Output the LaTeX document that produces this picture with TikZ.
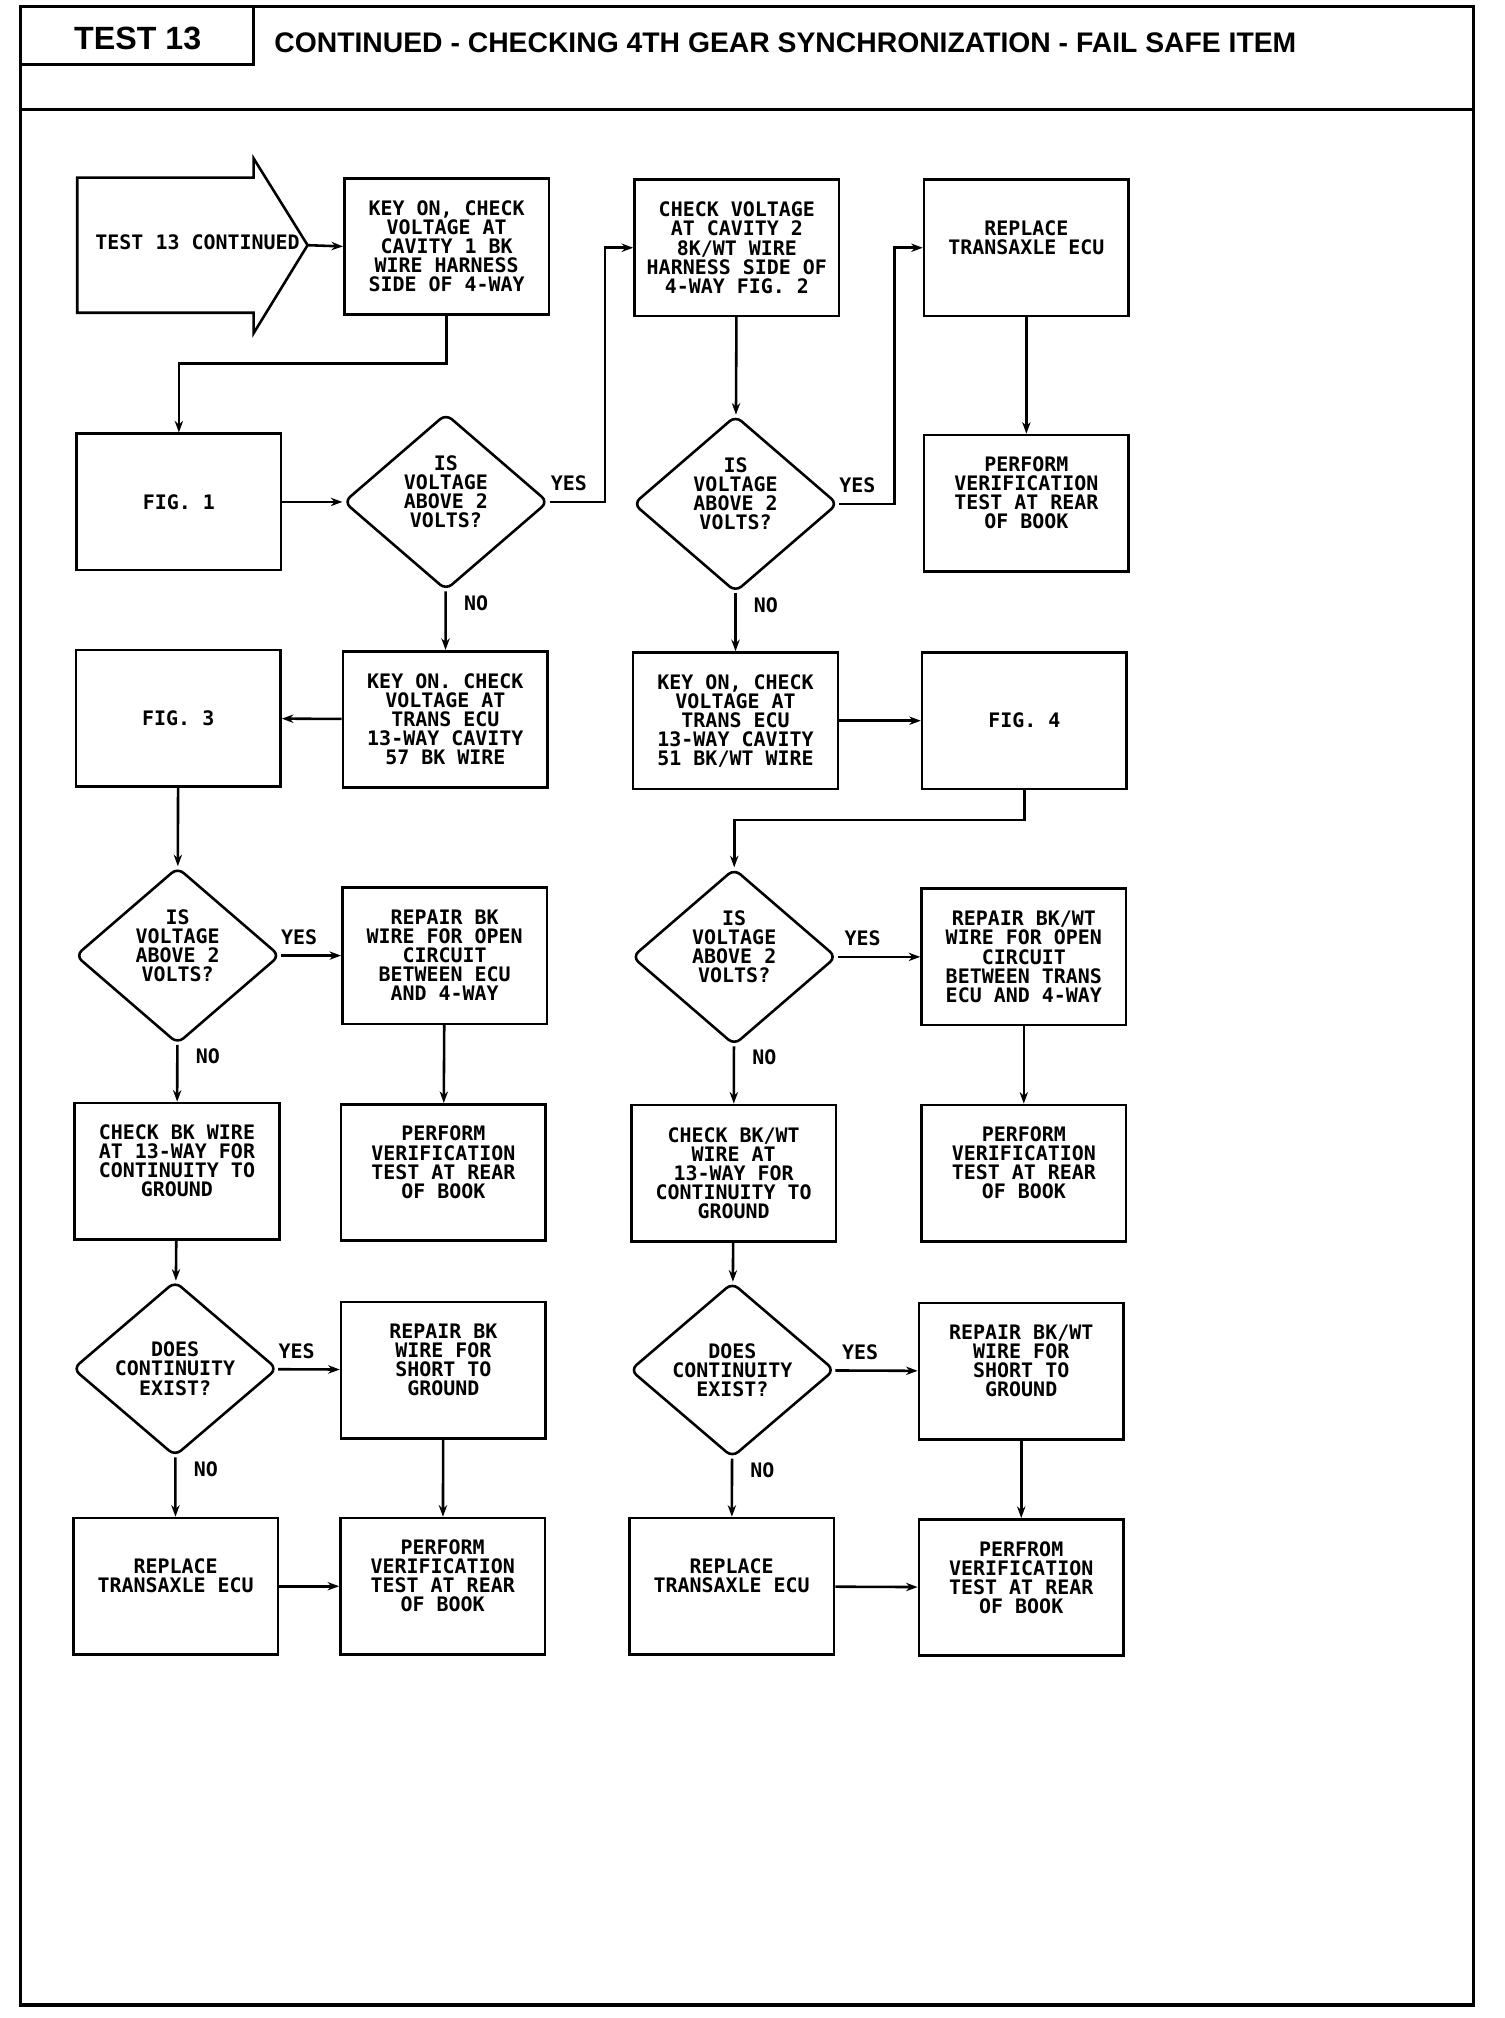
\documentclass[tikz,border=0pt]{standalone}
\usepackage{fontspec}
\setmonofont{DejaVu Sans Mono}
\newfontfamily\headfont{Liberation Sans}
\usetikzlibrary{arrows.meta,shapes.geometric}

\begin{document}
\begin{tikzpicture}[x=1pt, y=-1pt, every node/.style={font=\ttfamily\bfseries\fontsize{15.5}{14.8}\selectfont}, actbox/.style={draw, line width=2pt, align=center, minimum width=159pt, minimum height=106pt, inner sep=2pt}, query/.style={draw, diamond, line width=2pt, align=center, minimum width=159pt, minimum height=136pt, inner sep=0pt, rounded corners=6pt}, lifted/.style={text depth=16pt}, arr/.style={-{Stealth[length=9pt,width=6.5pt]}, line width=2pt}, yes/.style={above, yshift=4pt}, no/.style={right, xshift=10pt}, frame/.style={line width=2.6pt}]
\useasboundingbox (0,0) rectangle (1169,1568);
\draw[frame] (16,5) rectangle (1145,1558); \draw[frame] (16,85) -- (1145,85); \draw[line width=2pt] (197,5) -- (197,50) -- (16,50);
\node[font=\headfont\bfseries\fontsize{25}{25}\selectfont, inner sep=0pt] (testno) at (107,30) {TEST 13};
\node[font=\headfont\bfseries\fontsize{22}{22}\selectfont, inner sep=0pt, anchor=west] (title) at (213,33) {CONTINUED - CHECKING 4TH GEAR SYNCHRONIZATION - FAIL SAFE ITEM};
\draw[line width=2pt] (60,138) -- (197,138) -- (197,123) -- (239,190.5) -- (197,259) -- (197,243) -- (60,243) -- cycle;
\node (start) at (153.5,188) {TEST 13 CONTINUED};
\coordinate (starttip) at (239,190.5);
\node[actbox] (keyon4way) at (347,191.5) {KEY ON, CHECK\\VOLTAGE AT\\CAVITY 1 BK\\WIRE HARNESS\\SIDE OF 4-WAY};
\node[actbox] (check4way2) at (572.5,192.5) {CHECK VOLTAGE\\AT CAVITY 2\\8K/WT WIRE\\HARNESS SIDE OF\\4-WAY FIG. 2};
\node[actbox, lifted] (replacea) at (797.5,192.5) {REPLACE\\TRANSAXLE ECU};
\node[actbox] (fig1) at (139,390) {FIG. 1};
\node[query, lifted] (volt4way) at (346.5,390) {IS\\VOLTAGE\\ABOVE 2\\VOLTS?};
\node[query, lifted] (volt4way2) at (571.5,391.5) {IS\\VOLTAGE\\ABOVE 2\\VOLTS?};
\node[actbox, lifted] (verifya) at (797.5,391) {PERFORM\\VERIFICATION\\TEST AT REAR\\OF BOOK};
\node[actbox] (fig3) at (138.5,558) {FIG. 3};
\node[actbox] (keyon57) at (346,559) {KEY ON. CHECK\\VOLTAGE AT\\TRANS ECU\\13-WAY CAVITY\\57 BK WIRE};
\node[actbox] (keyon51) at (571.5,560) {KEY ON, CHECK\\VOLTAGE AT\\TRANS ECU\\13-WAY CAVITY\\51 BK/WT WIRE};
\node[actbox] (fig4) at (796,560) {FIG. 4};
\node[query, lifted] (volt57) at (138,742.5) {IS\\VOLTAGE\\ABOVE 2\\VOLTS?};
\node[actbox] (repair57) at (345.5,742.5) {REPAIR BK\\WIRE FOR OPEN\\CIRCUIT\\BETWEEN ECU\\AND 4-WAY};
\node[query, lifted] (volt51) at (570.5,743.5) {IS\\VOLTAGE\\ABOVE 2\\VOLTS?};
\node[actbox] (repair51) at (795.5,743.5) {REPAIR BK/WT\\WIRE FOR OPEN\\CIRCUIT\\BETWEEN TRANS\\ECU AND 4-WAY};
\node[actbox, lifted] (checkgnd57) at (137.5,910) {CHECK BK WIRE\\AT 13-WAY FOR\\CONTINUITY TO\\GROUND};
\node[actbox, lifted] (verify57a) at (344.5,911) {PERFORM\\VERIFICATION\\TEST AT REAR\\OF BOOK};
\node[actbox] (checkgnd51) at (570,911.5) {CHECK BK/WT\\WIRE AT\\13-WAY FOR\\CONTINUITY TO\\GROUND};
\node[actbox, lifted] (verify51a) at (795.5,911.5) {PERFORM\\VERIFICATION\\TEST AT REAR\\OF BOOK};
\node[query] (cont57) at (136,1063.5) {DOES\\CONTINUITY\\EXIST?};
\node[actbox, lifted] (short57) at (344.5,1064.5) {REPAIR BK\\WIRE FOR\\SHORT TO\\GROUND};
\node[query] (cont51) at (569,1064.5) {DOES\\CONTINUITY\\EXIST?};
\node[actbox, lifted] (short51) at (793.5,1065.5) {REPAIR BK/WT\\WIRE FOR\\SHORT TO\\GROUND};
\node[actbox, lifted] (replace57) at (136.5,1232.5) {REPLACE\\TRANSAXLE ECU};
\node[actbox, lifted] (verify57b) at (344,1232.5) {PERFORM\\VERIFICATION\\TEST AT REAR\\OF BOOK};
\node[actbox, lifted] (replace51) at (568.5,1232.5) {REPLACE\\TRANSAXLE ECU};
\node[actbox, lifted] (verify51b) at (793.5,1233.5) {PERFROM\\VERIFICATION\\TEST AT REAR\\OF BOOK};
\draw[arr] (starttip) -- (keyon4way.west); \draw[arr] (keyon4way.south) -- ++(0,37) -| (fig1.north); \draw[arr] (fig1) -- (volt4way); \draw[arr] (volt4way.east) -- node[pos=.35, yes]{YES} ++(43,0) |- (check4way2.west); \draw[arr] (volt4way) -- node[pos=.2, no]{NO} (keyon57); \draw[arr] (keyon57) -- (fig3); \draw[arr] (fig3) -- (volt57);
\draw[arr] (volt57) -- node[pos=.3, yes]{YES} (repair57); \draw[arr] (volt57) -- node[pos=.2, no]{NO} (checkgnd57); \draw[arr] (repair57) -- (verify57a); \draw[arr] (checkgnd57) -- (cont57); \draw[arr] (cont57) -- node[pos=.3, yes]{YES} (short57); \draw[arr] (cont57) -- node[pos=.2, no]{NO} (replace57); \draw[arr] (short57) -- (verify57b); \draw[arr] (replace57) -- (verify57b);
\draw[arr] (check4way2) -- (volt4way2); \draw[arr] (volt4way2.east) -- node[pos=.33, yes]{YES} ++(43,0) |- (replacea.west); \draw[arr] (replacea) -- (verifya); \draw[arr] (volt4way2) -- node[pos=.2, no]{NO} (keyon51); \draw[arr] (keyon51) -- (fig4); \draw[arr] (fig4.south) -- ++(0,23) -| (volt51.north);
\draw[arr] (volt51) -- node[pos=.3, yes]{YES} (repair51); \draw[arr] (volt51) -- node[pos=.2, no]{NO} (checkgnd51); \draw[arr] (repair51) -- (verify51a); \draw[arr] (checkgnd51) -- (cont51); \draw[arr] (cont51) -- node[pos=.3, yes]{YES} (short51); \draw[arr] (cont51) -- node[pos=.2, no]{NO} (replace51); \draw[arr] (short51) -- (verify51b); \draw[arr] (replace51) -- (verify51b);
\end{tikzpicture}
\end{document}
